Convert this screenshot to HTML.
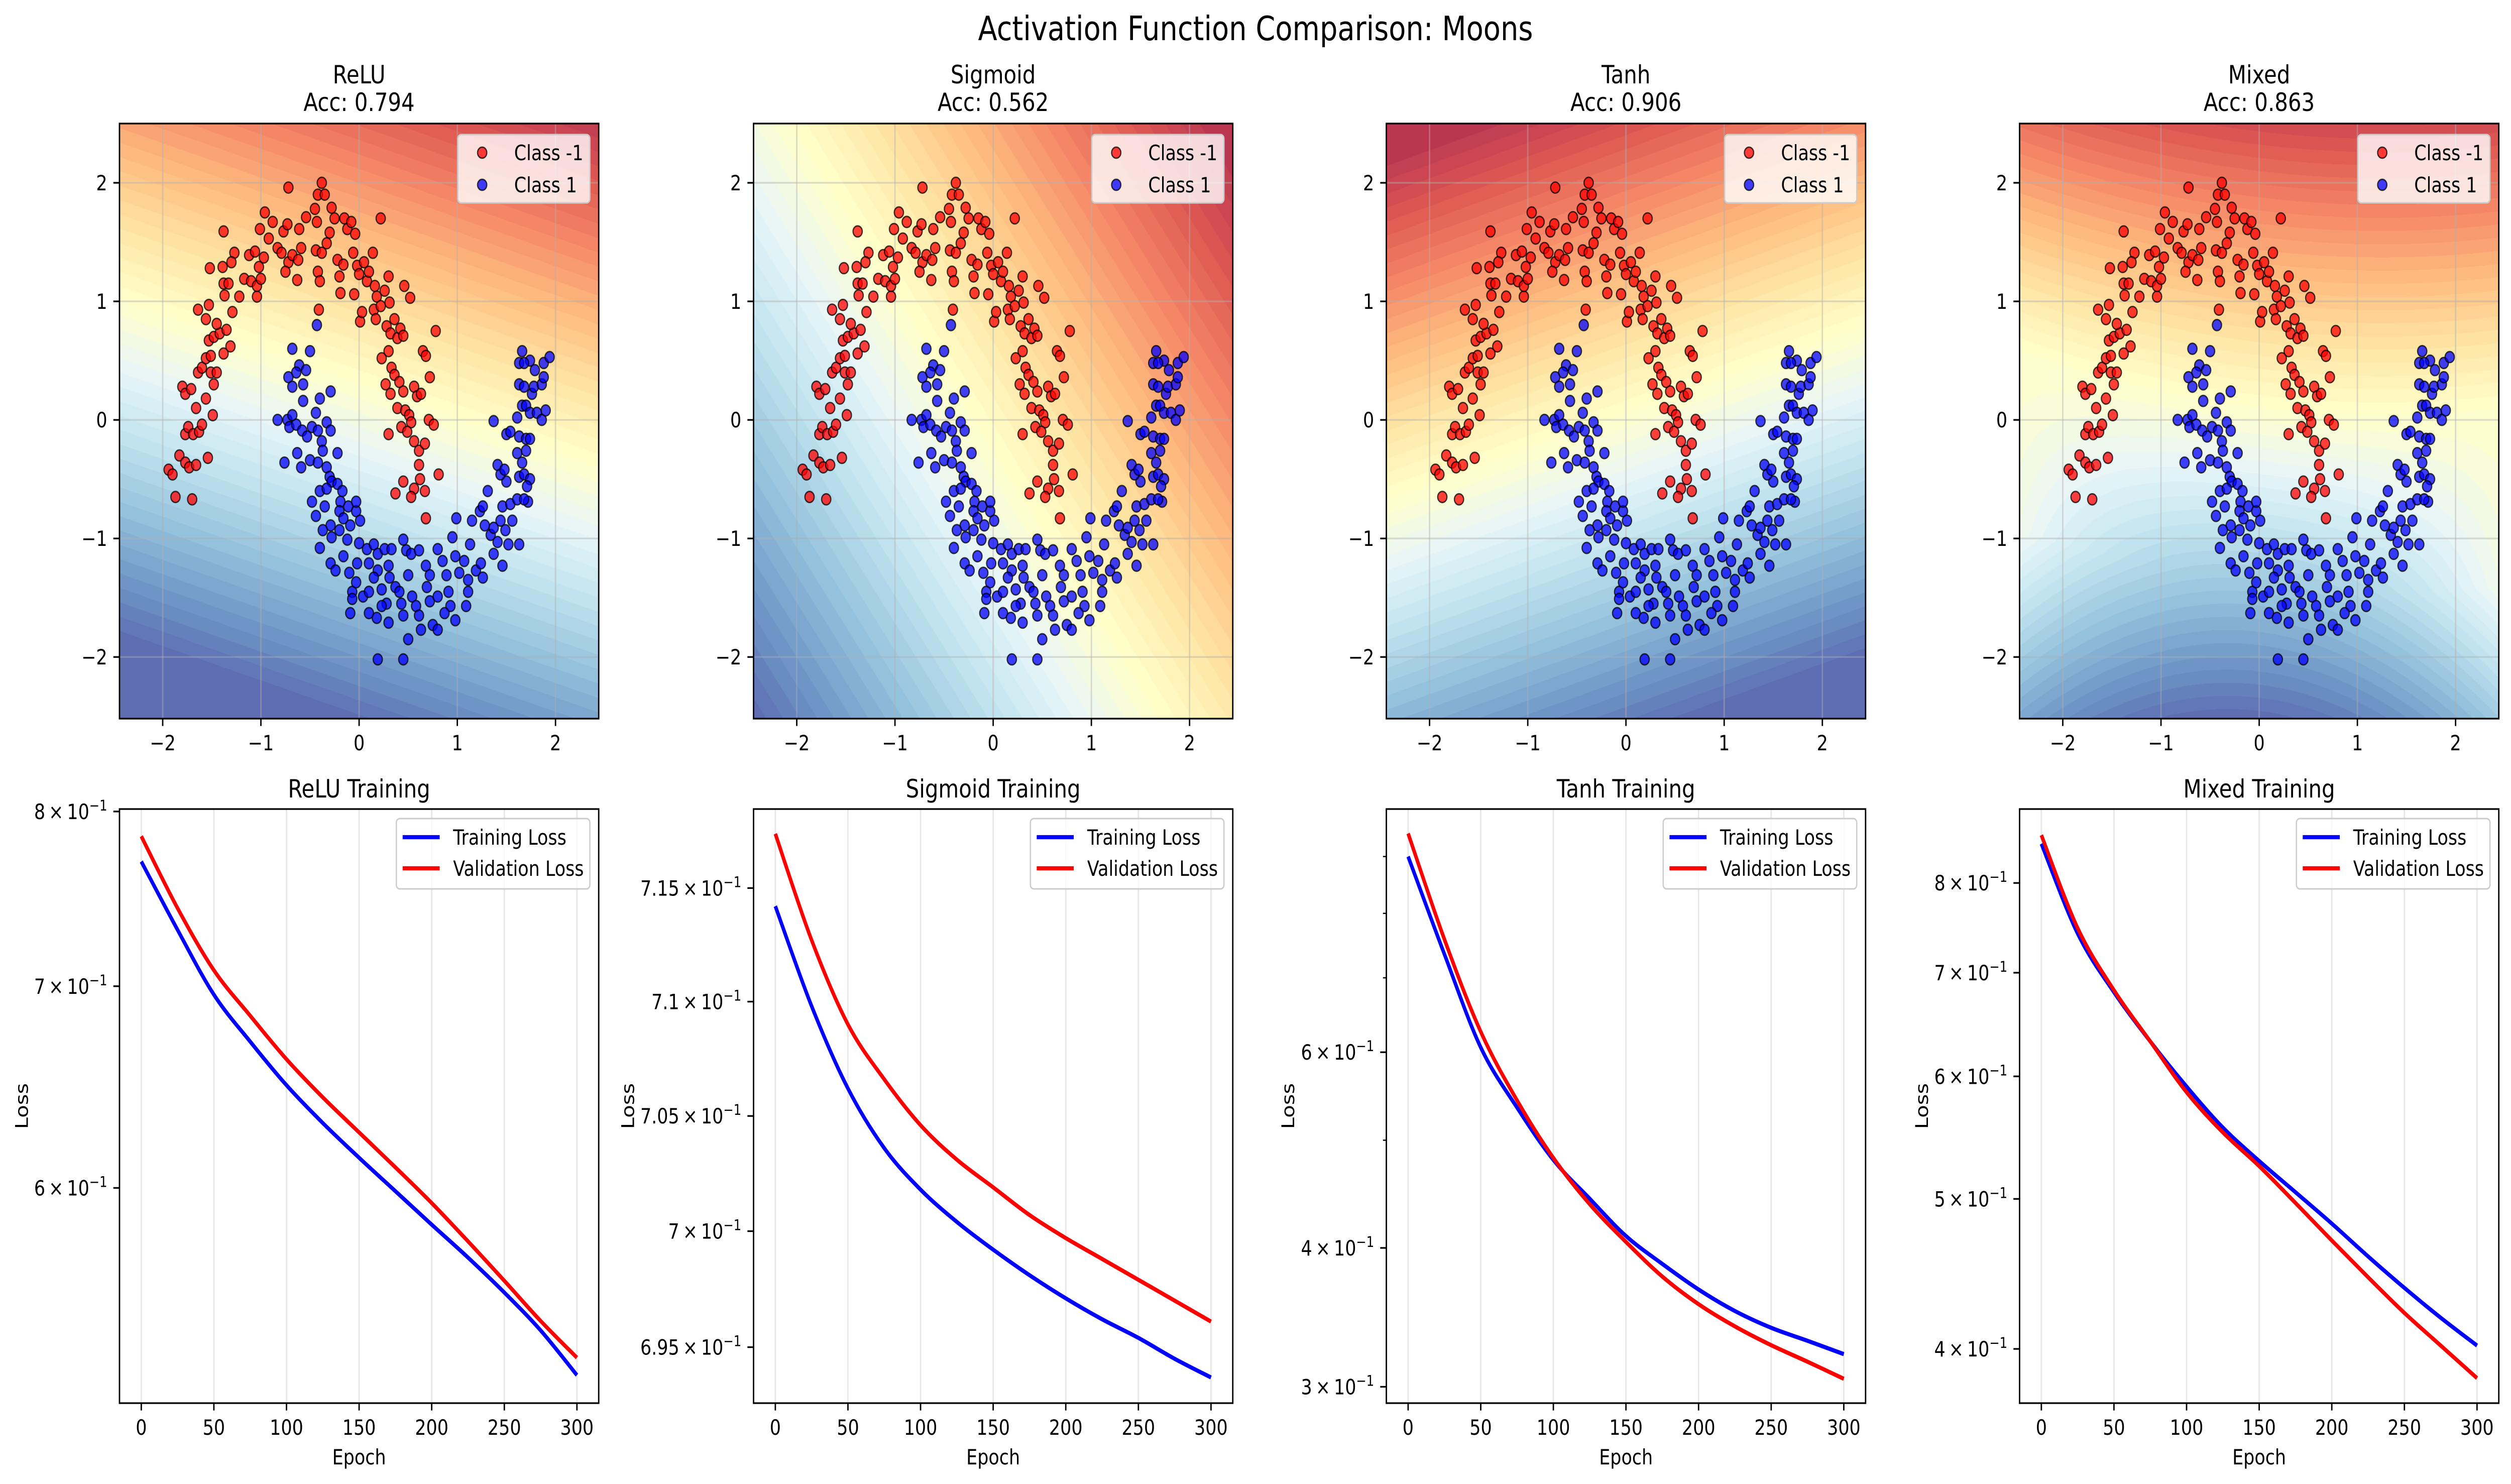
<!DOCTYPE html>
<html><head><meta charset="utf-8"><meta name="viewport" content="width=5968"><style>
html,body{margin:0;padding:0;background:#fff;overflow:hidden;}
#wrap{position:absolute;left:0;top:0;width:5968px;height:2955px;overflow:hidden;background:#fff;transform-origin:0 0;}
canvas{position:absolute;}
svg{position:absolute;left:0;top:0;}
text{font-family:"DejaVu Sans","Liberation Sans",sans-serif;fill:#000;}
</style></head><body>
<div id="wrap">
<canvas id="bg0"></canvas>
<canvas id="bg1"></canvas>
<canvas id="bg2"></canvas>
<canvas id="bg3"></canvas>
<svg id="fig" width="5968" height="2955" xmlns="http://www.w3.org/2000/svg">
<text x="2984" y="80" text-anchor="middle" font-size="66.7">Activation Function Comparison: Moons</text>
</svg>
</div>
<script>
// ---------- data ----------
const panelNames = ["ReLU","Sigmoid","Tanh","Mixed"];
const accuracies = ["0.794","0.562","0.906","0.863"];
const epochs = [0,25,50,75,100,125,150,175,200,225,250,275,300];
const reluTrain = [0.770,0.7308,0.6955,0.6710,0.6490,0.6305,0.6140,0.5985,0.5834,0.5689,0.5539,0.5381,0.520];
const reluVal = [0.785,0.743,0.7086,0.6844,0.6620,0.6430,0.6260,0.6095,0.5931,0.5760,0.5589,0.5420,0.527];
const sigTrain = [0.7142,0.7098,0.7062,0.7036,0.7018,0.7004,0.6992,0.6981,0.6971,0.6962,0.6954,0.6945,0.6937];
const sigVal = [0.7174,0.7127,0.7090,0.7066,0.7046,0.7031,0.7019,0.7007,0.6997,0.6988,0.6979,0.6970,0.6961];
const tanhTrain = [0.900,0.735,0.606,0.535,0.480,0.443,0.410,0.387,0.367,0.351,0.339,0.330,0.321];
const tanhVal = [0.944,0.758,0.626,0.543,0.482,0.438,0.405,0.377,0.356,0.340,0.327,0.316,0.305];
const mixTrain = [0.848,0.742,0.680,0.632,0.591,0.556,0.529,0.505,0.482,0.459,0.438,0.419,0.402];
const mixVal = [0.859,0.748,0.682,0.632,0.586,0.552,0.525,0.497,0.470,0.445,0.422,0.402,0.383];
const lossRanges = [[0.509,0.8015],[0.6926,0.7185],[0.290,0.993],[0.369,0.893]];
const reluTicks = [0.8,0.7,0.6]; const reluTickLabels = ["8","7","6"];
const sigTicks = [0.715,0.71,0.705,0.70,0.695]; const sigTickLabels = ["7.15","7.1","7.05","7","6.95"];
const tanhTicks = [0.6,0.4,0.3]; const tanhTickLabels = ["6","4","3"];
const tanhMinor = [0.9,0.8,0.7,0.5];
const mixTicks = [0.8,0.7,0.6,0.5,0.4]; const mixTickLabels = ["8","7","6","5","4"];
const epochTicks = [0,50,100,150,200,250,300];
const coordTicks = [-2,-1,0,1,2];
const classNegPts = [[-1.94,-0.42],[-1.90,-0.46],[-1.87,-0.65],[-1.70,-0.67],[-1.83,-0.30],[-1.77,-0.36],[-1.73,-0.40],[-1.66,-0.38],[-1.54,-0.32],[-1.77,-0.12],[-1.74,-0.06],[-1.69,-0.12],[-1.63,-0.10],[-1.60,-0.04],[-1.49,0.04],[-1.66,0.10],[-1.56,0.18],[-1.80,0.28],[-1.77,0.22],[-1.71,0.26],[-1.64,0.40],[-1.60,0.44],[-1.51,0.40],[-1.45,0.40],[-1.48,0.30],[-1.56,0.52],[-1.51,0.54],[-1.53,0.67],[-1.48,0.70],[-1.42,0.73],[-1.64,0.93],[-1.53,0.97],[-1.56,0.85],[-1.45,0.81],[-1.38,0.56],[-1.31,0.62],[-1.35,0.76],[-1.52,1.28],[-1.39,1.29],[-1.37,1.05],[-1.38,1.15],[-1.33,1.15],[-1.27,1.41],[-1.30,1.33],[-1.38,1.59],[-1.29,0.91],[-1.22,1.04],[-1.17,1.19],[-1.10,1.17],[-1.04,1.04],[-1.12,1.39],[-1.06,1.42],[-1.04,1.13],[-1.00,1.19],[-1.02,1.29],[-0.97,1.37],[-1.01,1.61],[-0.96,1.75],[-0.92,1.53],[-0.88,1.67],[-0.83,1.45],[-0.79,1.41],[-0.77,1.59],[-0.73,1.65],[-0.72,1.96],[-0.72,1.33],[-0.75,1.25],[-0.68,1.39],[-0.63,1.18],[-0.62,1.35],[-0.59,1.45],[-0.61,1.61],[-0.54,1.71],[-0.45,1.78],[-0.43,1.67],[-0.42,1.90],[-0.38,2.00],[-0.35,1.90],[-0.44,1.43],[-0.38,1.41],[-0.42,1.25],[-0.40,1.17],[-0.41,0.93],[-0.33,1.49],[-0.30,1.58],[-0.28,1.79],[-0.25,1.70],[-0.22,1.35],[-0.20,1.21],[-0.19,1.07],[-0.16,1.31],[-0.15,1.70],[-0.12,1.61],[-0.08,1.67],[-0.06,1.41],[-0.04,1.57],[-0.05,1.06],[-0.02,1.30],[0.00,1.23],[0.01,0.83],[0.03,0.91],[0.05,1.33],[0.08,1.17],[0.10,1.25],[0.14,1.41],[0.16,1.13],[0.18,1.04],[0.15,0.93],[0.17,0.85],[0.22,1.70],[0.22,0.96],[0.26,1.09],[0.30,1.21],[0.31,0.99],[0.28,0.79],[0.32,0.73],[0.36,0.85],[0.39,0.69],[0.42,0.77],[0.45,0.71],[0.46,1.13],[0.52,1.03],[0.23,0.52],[0.30,0.58],[0.33,0.44],[0.36,0.38],[0.27,0.30],[0.41,0.32],[0.45,0.24],[0.32,0.22],[0.39,0.10],[0.47,0.08],[0.51,0.04],[0.53,-0.02],[0.43,-0.06],[0.49,-0.10],[0.56,0.28],[0.59,0.20],[0.63,0.22],[0.65,0.58],[0.68,0.54],[0.72,0.36],[0.30,-0.12],[0.56,-0.18],[0.61,-0.26],[0.67,-0.20],[0.71,0.00],[0.76,-0.04],[0.78,0.75],[0.61,-0.38],[0.62,-0.50],[0.56,-0.58],[0.53,-0.65],[0.67,-0.60],[0.68,-0.83],[0.81,-0.46],[0.37,-0.62],[0.45,-0.52]];
const classPosPts = [[-0.43,0.80],[-0.68,0.60],[-0.50,0.58],[-0.61,0.46],[-0.54,0.42],[-0.64,0.40],[-0.72,0.36],[-0.57,0.30],[-0.68,0.28],[-0.29,0.24],[-0.40,0.18],[-0.57,0.16],[-0.44,0.06],[-0.33,-0.02],[-0.83,0.00],[-0.73,0.00],[-0.68,0.04],[-0.71,-0.06],[-0.64,-0.04],[-0.58,-0.09],[-0.53,-0.14],[-0.48,-0.06],[-0.42,-0.09],[-0.38,-0.18],[-0.37,-0.26],[-0.29,-0.09],[-0.22,-0.28],[-0.63,-0.28],[-0.76,-0.36],[-0.59,-0.40],[-0.50,-0.34],[-0.42,-0.36],[-0.33,-0.40],[-0.48,-0.69],[-0.40,-0.60],[-0.44,-0.81],[-0.35,-0.73],[-0.30,-0.48],[-0.28,-0.52],[-0.33,-0.58],[-0.22,-0.54],[-0.19,-0.69],[-0.17,-0.60],[-0.20,-0.77],[-0.16,-0.83],[-0.11,-0.73],[-0.29,-0.89],[-0.37,-0.93],[-0.40,-1.08],[-0.28,-0.99],[-0.20,-0.93],[-0.12,-1.01],[-0.09,-0.89],[-0.03,-0.77],[-0.03,-0.69],[0.01,-0.85],[-0.29,-1.21],[-0.24,-1.27],[-0.16,-1.15],[-0.10,-1.29],[-0.02,-1.21],[0.00,-1.04],[0.08,-1.09],[0.10,-1.21],[0.15,-1.05],[0.19,-1.13],[0.19,-1.27],[0.26,-1.09],[0.30,-1.23],[0.33,-1.09],[-0.07,-1.45],[-0.07,-1.51],[-0.09,-1.63],[0.04,-1.49],[0.10,-1.45],[0.10,-1.63],[0.18,-1.67],[0.23,-1.43],[0.28,-1.55],[0.30,-1.71],[0.31,-1.33],[0.37,-1.41],[0.41,-1.45],[0.43,-1.55],[0.45,-1.65],[0.48,-1.10],[0.53,-1.13],[0.61,-1.10],[0.50,-1.31],[0.54,-1.49],[0.58,-1.57],[0.61,-1.65],[0.63,-1.77],[0.50,-1.85],[0.68,-1.23],[0.69,-1.41],[0.72,-1.53],[0.75,-1.73],[0.80,-1.77],[0.80,-1.09],[0.85,-1.19],[0.89,-1.31],[0.91,-1.45],[0.93,-1.57],[0.87,-1.63],[0.95,-0.99],[0.99,-0.83],[0.98,-1.15],[1.02,-1.29],[1.07,-1.19],[1.11,-1.35],[1.09,-1.57],[1.13,-1.05],[1.15,-0.85],[1.19,-1.27],[1.24,-1.21],[1.26,-1.33],[1.23,-0.77],[1.26,-0.73],[1.31,-0.60],[1.28,-0.89],[1.34,-0.97],[1.37,-1.13],[1.37,-0.91],[1.41,-1.03],[1.46,-1.23],[1.44,-0.85],[1.49,-0.93],[1.52,-1.05],[1.46,-0.73],[1.50,-0.52],[1.54,-0.71],[1.56,-0.85],[1.61,-0.67],[1.63,-1.05],[1.41,-0.38],[1.44,-0.46],[1.48,-0.42],[1.37,-0.01],[1.50,-0.12],[1.54,-0.10],[1.61,-0.28],[1.63,-0.48],[1.66,-0.36],[1.68,-0.46],[1.70,-0.26],[1.72,-0.69],[1.74,-0.50],[1.71,-0.56],[1.68,-0.67],[1.63,-0.14],[1.70,-0.16],[1.74,-0.16],[1.61,0.02],[1.66,0.12],[1.70,0.12],[1.74,0.06],[1.81,0.06],[1.86,0.00],[1.90,0.08],[1.63,0.30],[1.68,0.28],[1.76,0.22],[1.78,0.28],[1.86,0.30],[1.88,0.36],[1.79,0.42],[1.74,0.50],[1.63,0.48],[1.68,0.48],[1.66,0.58],[1.88,0.48],[1.94,0.53],[0.19,-2.02],[0.45,-2.02],[0.45,-1.01],[-0.03,-1.37],[0.15,-1.33],[0.23,-1.57],[0.72,-1.31],[0.80,-1.49],[1.11,-1.45],[0.98,-1.69]];

// ---------- fit to viewport ----------
const wrapEl = document.getElementById('wrap');
function fitWrap(){
  const vw = window.innerWidth || 5968, vh = window.innerHeight || 2955;
  const sx = vw/5968, sy = vh/2955;
  if (Math.abs(sx-1) > 0.002 || Math.abs(sy-1) > 0.002) wrapEl.style.transform = 'scale('+sx+','+sy+')';
  else wrapEl.style.transform = 'none';
}
fitWrap();
window.addEventListener('resize', fitWrap);

// ---------- layout ----------
const NS = "http://www.w3.org/2000/svg";
const svg = document.getElementById('fig');
const lefts = [284,1791,3295,4800];
const W = 1139;
const topT = 246, topH = 1185;
const botT = 1611, botH = 1183;
const XMIN=-2.44, XMAX=2.44, YMIN=-2.52, YMAX=2.5;
const FS = 41.7;
const loss = [[reluTrain,reluVal],[sigTrain,sigVal],[tanhTrain,tanhVal],[mixTrain,mixVal]];
const yTickSets = [[reluTicks,reluTickLabels],[sigTicks,sigTickLabels],[tanhTicks,tanhTickLabels],[mixTicks,mixTickLabels]];
const minorSets = [[],[],tanhMinor,[]];
const lossLabelOff = [233,299,234,233];

function el(tag, attrs, parent){
  const e = document.createElementNS(NS, tag);
  for (const k in attrs) e.setAttribute(k, attrs[k]);
  (parent||svg).appendChild(e);
  return e;
}
function txt(s, attrs, parent){ const t = el('text', attrs, parent); t.textContent = s; return t; }

const cmap = [[49,54,149],[69,117,180],[116,173,209],[171,217,233],[224,243,248],[255,255,191],[254,224,144],[253,174,97],[244,109,67],[215,48,39],[165,0,38]];
function colorOf(f){
  f = Math.max(0, Math.min(0.999, f));
  const p = f*10, i = Math.floor(p), t = p - i;
  const a = cmap[i], b = cmap[i+1];
  return [a[0]+(b[0]-a[0])*t, a[1]+(b[1]-a[1])*t, a[2]+(b[2]-a[2])*t];
}
const surfaces = [
  (x,y)=>0.5+0.165*(y-(0.3-0.29*x)),
  (x,y)=>0.5+0.115*(x+0.2+0.75*y),
  (x,y)=>0.5+0.17*(y-(0.05+0.3*x)),
  (x,y)=>{const b=0.1-0.1*x+0.04*x*x; const d=y-b; return 0.5+0.18*d+(d<0?0.035*x*x*Math.min(1,-d/1.5):0);}
];

for (let p=0;p<4;p++){
  const L = lefts[p];
  const X = v => L + (v-XMIN)/(XMAX-XMIN)*W;
  const Y = v => topT + (YMAX-v)/(YMAX-YMIN)*topH;
  const cv = document.getElementById('bg'+p);
  cv.width = W; cv.height = topH;
  cv.style.left = L+'px'; cv.style.top = topT+'px';
  cv.style.width = W+'px'; cv.style.height = topH+'px';
  const ctx = cv.getContext('2d');
  const img = ctx.createImageData(W, topH);
  for (let j=0;j<topH;j++){
    const yv = YMAX - (j+0.5)/topH*(YMAX-YMIN);
    for (let i=0;i<W;i++){
      const xv = XMIN + (i+0.5)/W*(XMAX-XMIN);
      let f = surfaces[p](xv,yv);
      f = Math.max(0.02, Math.min(0.98, f));
      f = (Math.floor(f*50)+0.5)/50;
      const c = colorOf(f);
      const k = (j*W+i)*4;
      img.data[k]=c[0]*0.8+51; img.data[k+1]=c[1]*0.8+51; img.data[k+2]=c[2]*0.8+51; img.data[k+3]=255;
    }
  }
  ctx.putImageData(img,0,0);

  const g = el('g', {});
  
  
  coordTicks.forEach(v=>{
    const gl = el('line',{x1:X(v),x2:X(v),y1:topT,y2:topT+topH,stroke:'#b0b0b0','stroke-opacity':0.45,'stroke-width':3.3},g);
     
    const gh = el('line',{x1:L,x2:L+W,y1:Y(v),y2:Y(v),stroke:'#b0b0b0','stroke-opacity':0.45,'stroke-width':3.3},g);
     
  });
  const drawPts = (pts, fill, name)=>{
    pts.forEach(pt=>{
      const c = el('circle',{cx:X(pt[0]),cy:Y(pt[1]),r:11,fill:fill,'fill-opacity':0.75,stroke:'#000','stroke-opacity':0.75,'stroke-width':2.8},g);
      
      
    });
  };
  drawPts(classNegPts,'#ff0000','class-neg1-point');
  drawPts(classPosPts,'#0000ff','class-1-point');
  const fr = el('rect',{x:L,y:topT,width:W,height:topH,fill:'none',stroke:'#000','stroke-width':3.3},g);
   
  coordTicks.forEach(v=>{
    el('line',{x1:X(v),x2:X(v),y1:topT+topH,y2:topT+topH+14.6,stroke:'#000','stroke-width':3.3},g);
    const tl = txt(v<0?'\u2212'+(-v):String(v),{x:X(v),y:1494,'text-anchor':'middle','font-size':FS},g);
     
    el('line',{x1:L-14.6,x2:L,y1:Y(v),y2:Y(v),stroke:'#000','stroke-width':3.3},g);
    const yl = txt(v<0?'\u2212'+(-v):String(v),{x:L-29,y:Y(v)+15,'text-anchor':'end','font-size':FS},g);
     
  });
  const t1 = txt(panelNames[p],{x:L+W/2,y:166,'text-anchor':'middle','font-size':50},g);
   
  const t2 = txt('Acc: '+accuracies[p],{x:L+W/2,y:221,'text-anchor':'middle','font-size':50},g);
   
  const R = L+W;
  const lg = el('g',{},g);
   
  el('rect',{x:R-335,y:topT+22,width:314,height:136,rx:8,fill:'#fff','fill-opacity':0.8,stroke:'#cccccc','stroke-width':3},lg);
  el('circle',{cx:R-277,cy:topT+58,r:11,fill:'#ff0000','fill-opacity':0.75,stroke:'#000','stroke-opacity':0.75,'stroke-width':2.8},lg);
  el('circle',{cx:R-277,cy:topT+122,r:11,fill:'#0000ff','fill-opacity':0.75,stroke:'#000','stroke-opacity':0.75,'stroke-width':2.8},lg);
  const le1 = txt('Class -1',{x:R-201,y:topT+73,'font-size':FS},lg);
   
  const le2 = txt('Class 1',{x:R-201,y:topT+137,'font-size':FS},lg);
   

  // ---------- loss panel ----------
  const [lmin,lmax] = lossRanges[p];
  const XE = e => L + (e+15)/330*W;
  const YL = v => botT + (Math.log(lmax)-Math.log(v))/(Math.log(lmax)-Math.log(lmin))*botH;
  const gb = el('g',{});
  
  
  epochTicks.forEach(e=>{
    const gl = el('line',{x1:XE(e),x2:XE(e),y1:botT,y2:botT+botH,stroke:'#b0b0b0','stroke-opacity':0.3,'stroke-width':3.3},gb);
     
    el('line',{x1:XE(e),x2:XE(e),y1:botT+botH,y2:botT+botH+14.6,stroke:'#000','stroke-width':3.3},gb);
    const tl = txt(String(e),{x:XE(e),y:2857,'text-anchor':'middle','font-size':FS},gb);
     
  });
  const [tv,tl] = yTickSets[p];
  tv.forEach((v,i)=>{
    el('line',{x1:L-14.6,x2:L,y1:YL(v),y2:YL(v),stroke:'#000','stroke-width':3.3},gb);
    const t = el('text',{x:L-29,y:YL(v)+15,'text-anchor':'end','font-size':FS},gb);
     
    t.appendChild(document.createTextNode(tl[i]+'\u2009\u00d7\u200910'));
    const sp = document.createElementNS(NS,'tspan');
    sp.setAttribute('dy','-17'); sp.setAttribute('font-size','29');
    sp.textContent='\u22121';
    t.appendChild(sp);
  });
  minorSets[p].forEach(v=>{
    el('line',{x1:L-8,x2:L,y1:YL(v),y2:YL(v),stroke:'#000','stroke-width':2.5},gb);
  });
  const colors = ['#0000ff','#ff0000'];
  const names = ['training-loss-line','validation-loss-line'];
  loss[p].forEach((series,si)=>{
    const pts = epochs.map((e,i)=>[XE(e),YL(series[i])]);
    let d = 'M'+pts[0][0]+','+pts[0][1];
    for (let i=0;i<pts.length-1;i++){
      const p0 = pts[Math.max(0,i-1)], p1 = pts[i], p2 = pts[i+1], p3 = pts[Math.min(pts.length-1,i+2)];
      const c1 = [p1[0]+(p2[0]-p0[0])/6, p1[1]+(p2[1]-p0[1])/6];
      const c2 = [p2[0]-(p3[0]-p1[0])/6, p2[1]-(p3[1]-p1[1])/6];
      d += ' C'+c1[0]+','+c1[1]+' '+c2[0]+','+c2[1]+' '+p2[0]+','+p2[1];
    }
    const path = el('path',{d:d,fill:'none',stroke:colors[si],'stroke-width':8.3},gb);
    
    
  });
  const fb = el('rect',{x:L,y:botT,width:W,height:botH,fill:'none',stroke:'#000','stroke-width':3.3},gb);
   
  const bt = txt(panelNames[p]+' Training',{x:L+W/2,y:1588,'text-anchor':'middle','font-size':50},gb);
   
  const xl = txt('Epoch',{x:L+W/2,y:2916,'text-anchor':'middle','font-size':FS},gb);
   
  const yx = L-lossLabelOff[p]+15, yy = botT+botH/2;
  const yl = txt('Loss',{x:yx,y:yy,'text-anchor':'middle','font-size':FS,transform:'rotate(-90 '+yx+' '+yy+')'},gb);
   
  const lg2 = el('g',{},gb);
   
  el('rect',{x:R-481,y:botT+19,width:460,height:140,rx:8,fill:'#fff','fill-opacity':0.8,stroke:'#cccccc','stroke-width':3},lg2);
  el('line',{x1:R-466,x2:R-378,y1:botT+56,y2:botT+56,stroke:'#0000ff','stroke-width':8.3},lg2);
  el('line',{x1:R-466,x2:R-378,y1:botT+118,y2:botT+118,stroke:'#ff0000','stroke-width':8.3},lg2);
  const e1 = txt('Training Loss',{x:R-346,y:botT+71,'font-size':FS},lg2);
   
  const e2 = txt('Validation Loss',{x:R-346,y:botT+133,'font-size':FS},lg2);
   
}
</script>
</body></html>
